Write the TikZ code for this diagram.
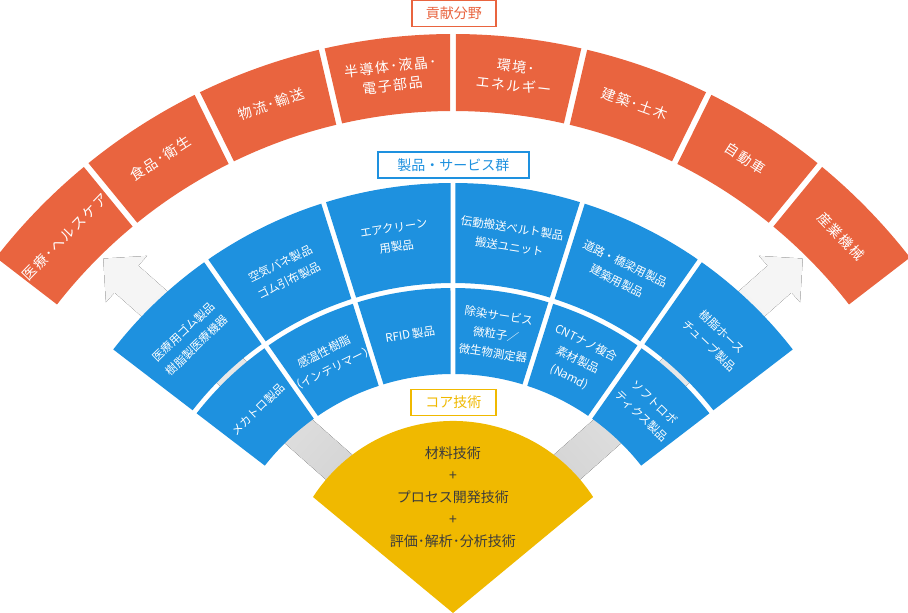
\documentclass[tikz,border=0pt]{standalone}
\usepackage{fontspec}
\newfontfamily\jpfont{Noto Sans CJK JP}
\newfontfamily\jpwide[LetterSpace=10]{Noto Sans CJK JP}
\definecolor{fieldorange}{RGB}{233,100,63}
\definecolor{prodblue}{RGB}{30,145,223}
\definecolor{coreyellow}{RGB}{240,185,0}
\definecolor{coretext}{RGB}{60,60,60}
\definecolor{arrowdark}{RGB}{208,208,208}
\definecolor{arrowlight}{RGB}{245,245,245}
\usetikzlibrary{calc}

% ring segment: fill style, text style, name, from angle, to angle, inner r, outer r, text
\newcommand{\ringseg}[8]{%
  \fill[#1] ({#4+asin(\halfgap/#7)}:#7) arc[start angle={#4+asin(\halfgap/#7)}, end angle={#5-asin(\halfgap/#7)}, radius=#7]
    -- ({#5-asin(\halfgap/#6)}:#6) arc[start angle={#5-asin(\halfgap/#6)}, end angle={#4+asin(\halfgap/#6)}, radius=#6] -- cycle;
  \node[#2, rotate={(#4+#5)/2-90}] (#3) at ({(#4+#5)/2}:{(#6+#7)/2}) {#8};}

\begin{document}
\begin{tikzpicture}[x=1pt, y=1pt,
  fieldseg/.style={fill=fieldorange},
  prodseg/.style={fill=prodblue},
  fieldtext/.style={text=white, align=center, inner sep=0pt, font=\jpwide\fontsize{14}{19}\selectfont},
  prodtext/.style={text=white, align=center, inner sep=0pt, font=\jpfont\fontsize{11.5}{19}\selectfont},
  tagbox/.style={draw=#1, line width=1.3pt, fill=white, text=#1, inner sep=0pt, font=\jpfont\fontsize{14}{16}\selectfont, minimum height=26pt},
  fanarrow/.style={top color=arrowlight, bottom color=arrowdark, shading angle=#1}
]
  \useasboundingbox (-453,0) rectangle (455,613);
  \coordinate (fanfoot) at (0,45);
  % grey arrows behind the fan
  \fill[fanarrow=48.5] ($(fanfoot)+(138.5:60)+(48.5:18)$) -- ($(fanfoot)+(138.5:436)+(48.5:18)$) -- ($(fanfoot)+(138.5:436)+(48.5:31)$) -- ($(fanfoot)+(138.5:467)$)
    -- ($(fanfoot)+(138.5:436)+(48.5:-31)$) -- ($(fanfoot)+(138.5:436)+(48.5:-18)$) -- ($(fanfoot)+(138.5:60)+(48.5:-18)$) -- cycle;
  \fill[fanarrow=-48.5] ($(fanfoot)+(41.5:60)+(131.5:18)$) -- ($(fanfoot)+(41.5:436)+(131.5:18)$) -- ($(fanfoot)+(41.5:436)+(131.5:31)$) -- ($(fanfoot)+(41.5:467)$)
    -- ($(fanfoot)+(41.5:436)+(131.5:-31)$) -- ($(fanfoot)+(41.5:436)+(131.5:-18)$) -- ($(fanfoot)+(41.5:60)+(131.5:-18)$) -- cycle;
  % fields
  \def\halfgap{3}
  \ringseg{fieldseg}{fieldtext}{medical}{129.315}{142.42}{502}{579}{医療･ヘルスケア}
  \ringseg{fieldseg}{fieldtext}{food}{116.21}{129.315}{502}{579}{食品･衛生}
  \ringseg{fieldseg}{fieldtext}{logistics}{103.105}{116.21}{502}{579}{物流･輸送}
  \ringseg{fieldseg}{fieldtext}{semicon}{90}{103.105}{502}{579}{半導体･液晶･\\電子部品}
  \ringseg{fieldseg}{fieldtext}{energy}{76.895}{90}{502}{579}{環境･\\エネルギー}
  \ringseg{fieldseg}{fieldtext}{building}{63.79}{76.895}{502}{579}{建築･土木}
  \ringseg{fieldseg}{fieldtext}{auto}{50.685}{63.79}{502}{579}{自動車}
  \ringseg{fieldseg}{fieldtext}{machine}{37.58}{50.685}{502}{579}{産業機械}
  % products, outer row
  \def\halfgap{2.5}
  \ringseg{prodseg}{prodtext}{medrubber}{125.02}{142.53}{330}{430}{医療用ゴム製品\\樹脂製医療機器}
  \ringseg{prodseg}{prodtext}{airspring}{107.51}{125.02}{330}{430}{空気バネ製品\\ゴム引布製品}
  \ringseg{prodseg}{prodtext}{airclean}{90}{107.51}{330}{430}{エアクリーン\\用製品}
  \ringseg{prodseg}{prodtext}{belt}{72.49}{90}{330}{430}{伝動搬送ベルト製品\\搬送ユニット}
  \ringseg{prodseg}{prodtext}{road}{54.98}{72.49}{330}{430}{道路・橋梁用製品\\建築用製品}
  \ringseg{prodseg}{prodtext}{hose}{37.47}{54.98}{330}{430}{樹脂ホース\\チューブ製品}
  % products, inner row
  \ringseg{prodseg}{prodtext}{mechatro}{125.02}{142.53}{239}{325}{メカトロ製品}
  \ringseg{prodseg}{prodtext}{thermo}{107.51}{125.02}{239}{325}{感温性樹脂\\（インテリマー）}
  \ringseg{prodseg}{prodtext}{rfid}{90}{107.51}{239}{325}{RFID\,製品}
  \ringseg{prodseg}{prodtext}{decon}{72.49}{90}{239}{325}{除染サービス\\微粒子／\\微生物測定器}
  \ringseg{prodseg}{prodtext}{cnt}{54.98}{72.49}{239}{325}{CNTナノ複合\\素材製品\\(Namd)}
  \ringseg{prodseg}{prodtext}{softrobo}{37.47}{54.98}{239}{325}{ソフトロボ\\ティクス製品}
  % core
  \fill[coreyellow] (0,0) -- (-140,116) arc[start angle=147, end angle=33, radius=167] -- cycle;
  \node[text=coretext, align=center, font=\jpfont\fontsize{14}{22}\selectfont] (core) at (0,116) {材料技術\\+\\プロセス開発技術\\+\\評価･解析･分析技術};
  % tags
  \node[tagbox=fieldorange, minimum width=84pt] (fieldtag) at (1,599.5) {貢献分野};
  \node[tagbox=prodblue, minimum width=151pt] (prodtag) at (0.5,448) {製品・サービス群};
  \node[tagbox=coreyellow, minimum width=85pt] (coretag) at (0.5,210.5) {コア技術};
\end{tikzpicture}
\end{document}
